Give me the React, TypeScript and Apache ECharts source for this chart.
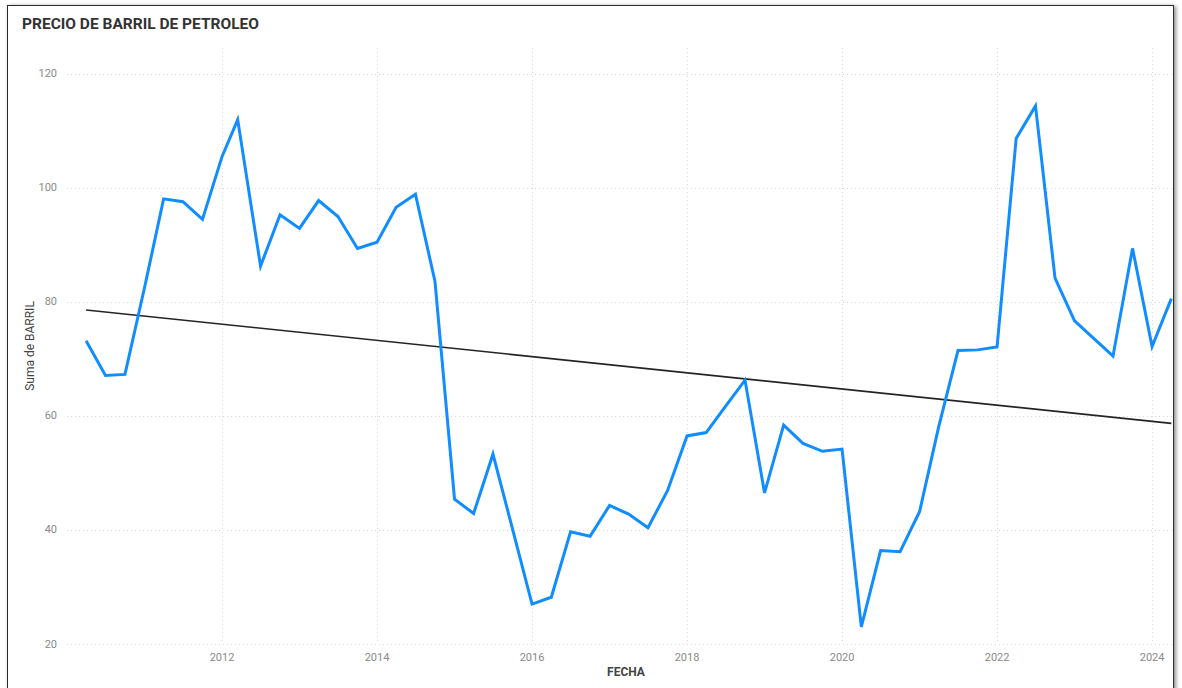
import React, { useEffect, useRef } from "react";
import * as echarts from "echarts";

const TITLE = "PRECIO DE BARRIL DE PETROLEO";
const X_NAME = "FECHA";
const Y_NAME = "Suma de BARRIL";

const dates: string[] = [
  "2010-04-01", "2010-07-01", "2010-10-01",
  "2011-01-01", "2011-04-01", "2011-07-01", "2011-10-01",
  "2012-01-01", "2012-03-15", "2012-07-01", "2012-10-01",
  "2013-01-01", "2013-04-01", "2013-07-01", "2013-10-01",
  "2014-01-01", "2014-04-01", "2014-07-01", "2014-10-01",
  "2015-01-01", "2015-04-01", "2015-07-01", "2015-10-01",
  "2016-01-01", "2016-04-01", "2016-07-01", "2016-10-01",
  "2017-01-01", "2017-04-01", "2017-07-01", "2017-10-01",
  "2018-01-01", "2018-04-01", "2018-07-01", "2018-10-01",
  "2019-01-01", "2019-04-01", "2019-07-01", "2019-10-01",
  "2020-01-01", "2020-04-01", "2020-07-01", "2020-10-01",
  "2021-01-01", "2021-04-01", "2021-07-01", "2021-10-01",
  "2022-01-01", "2022-04-01", "2022-07-01", "2022-10-01",
  "2023-01-01", "2023-04-01", "2023-07-01", "2023-10-01",
  "2024-01-01", "2024-04-01",
];

const barril: number[] = [
  73.2, 67.1, 67.3,
  82.5, 98.1, 97.6, 94.5,
  105.5, 112.0, 86.3, 95.3,
  92.9, 97.8, 95.0, 89.4,
  90.5, 96.6, 98.9, 83.6,
  45.4, 42.9, 53.3, 40.2,
  27.0, 28.2, 39.7, 38.9,
  44.3, 42.8, 40.4, 46.9,
  56.5, 57.1, 61.7, 66.3,
  46.5, 58.4, 55.2, 53.8,
  54.2, 23.0, 36.4, 36.2,
  43.2, 58.1, 71.5, 71.6,
  72.1, 108.7, 114.4, 84.2,
  76.7, 73.6, 70.5, 89.4,
  72.2, 80.6,
];

const trendDates: string[] = ["2010-04-01", "2024-04-01"];
const trendValues: number[] = [78.6, 58.7];

const yTicks: number[] = [20, 40, 60, 80, 100, 120];
const xTickYears: number[] = [2012, 2014, 2016, 2018, 2020, 2022, 2024];

function toYear(d: string): number {
  const [y, m, day] = d.split("-").map(Number);
  const start = Date.UTC(y, 0, 1);
  const end = Date.UTC(y + 1, 0, 1);
  const t = Date.UTC(y, m - 1, day);
  return y + (t - start) / (end - start);
}

export default function App() {
  const ref = useRef<HTMLDivElement>(null);

  useEffect(() => {
    if (!ref.current) return;
    const chart = echarts.init(ref.current, undefined, { renderer: "svg" });
    const grid = "#d9d9d9";
    const option: any = {
      animation: false,
      backgroundColor: "transparent",
      textStyle: { fontFamily: "Roboto" },
      title: {
        text: TITLE,
        left: 22,
        top: 16,
        padding: 0,
        textStyle: {
          fontFamily: "Roboto",
          fontSize: 15.5,
          fontWeight: "bold",
          color: "#333333",
        },
      },
      grid: { left: 67, top: 48, width: 1106, height: 596, containLabel: false },
      xAxis: {
        type: "value",
        min: 2010,
        max: 2024.27,
        interval: 2,
        name: X_NAME,
        nameLocation: "middle",
        nameGap: 22,
        nameMoveOverlap: false,
        nameTextStyle: {
          fontFamily: "Roboto",
          fontSize: 12,
          fontWeight: "bold",
          color: "#444",
          padding: [0, 0, 0, 12],
        },
        axisLine: { show: false },
        axisTick: { show: false },
        axisLabel: {
          color: "#8a8a8a",
          fontSize: 11,
          margin: 8,
          showMinLabel: false,
          formatter: (v: number) => (xTickYears.indexOf(Math.round(v * 1000) / 1000) >= 0 ? String(v) : ""),
        },
        splitLine: {
          show: true,
          lineStyle: {
            color: ["transparent", grid, grid, grid, grid, grid, grid, grid, "transparent"],
            type: [1, 3],
            width: 1,
          },
        },
      },
      yAxis: {
        type: "value",
        min: 20,
        max: 124.56,
        interval: 20,
        name: Y_NAME,
        nameLocation: "middle",
        nameGap: 31,
        nameRotate: 90,
        nameMoveOverlap: false,
        nameTextStyle: { fontFamily: "Roboto", fontSize: 12, color: "#444" },
        axisLine: { show: false },
        axisTick: { show: false },
        axisLabel: {
          color: "#8a8a8a",
          fontSize: 11,
          margin: 10,
          formatter: (v: number) => (yTicks.indexOf(Math.round(v * 1000) / 1000) >= 0 ? String(v) : ""),
        },
        splitLine: {
          show: true,
          lineStyle: {
            color: [grid, grid, grid, grid, grid, grid, "transparent"],
            type: [1, 3],
            width: 1,
          },
        },
      },
      series: [
        {
          type: "line",
          name: "Tendencia",
          data: trendDates.map((d, i) => [toYear(d), trendValues[i]]),
          showSymbol: false,
          symbol: "none",
          lineStyle: { color: "#252423", width: 1.6 },
          z: 2,
          silent: true,
        },
        {
          type: "line",
          name: "BARRIL",
          data: dates.map((d, i) => [toYear(d), barril[i]]),
          showSymbol: false,
          symbol: "none",
          lineStyle: { color: "#118DFF", width: 3, join: "miter" },
          z: 3,
          silent: true,
        },
      ],
    };
    chart.setOption(option);
    return () => chart.dispose();
  }, []);

  return (
    <div
      style={{
        position: "absolute",
        left: 0,
        top: 0,
        width: 1182,
        height: 688,
        background: "#ffffff",
        overflow: "hidden",
      }}
    >
      <div
        style={{
          position: "absolute",
          left: 7,
          top: 5,
          width: 1165,
          height: 720,
          border: "1px solid #2b2b2b",
          boxShadow: "2px 1px 4px rgba(0,0,0,0.45)",
          background: "#ffffff",
        }}
      />
      <div
        ref={ref}
        style={{ position: "absolute", left: 0, top: 0, width: 1182, height: 688 }}
      />
    </div>
  );
}
